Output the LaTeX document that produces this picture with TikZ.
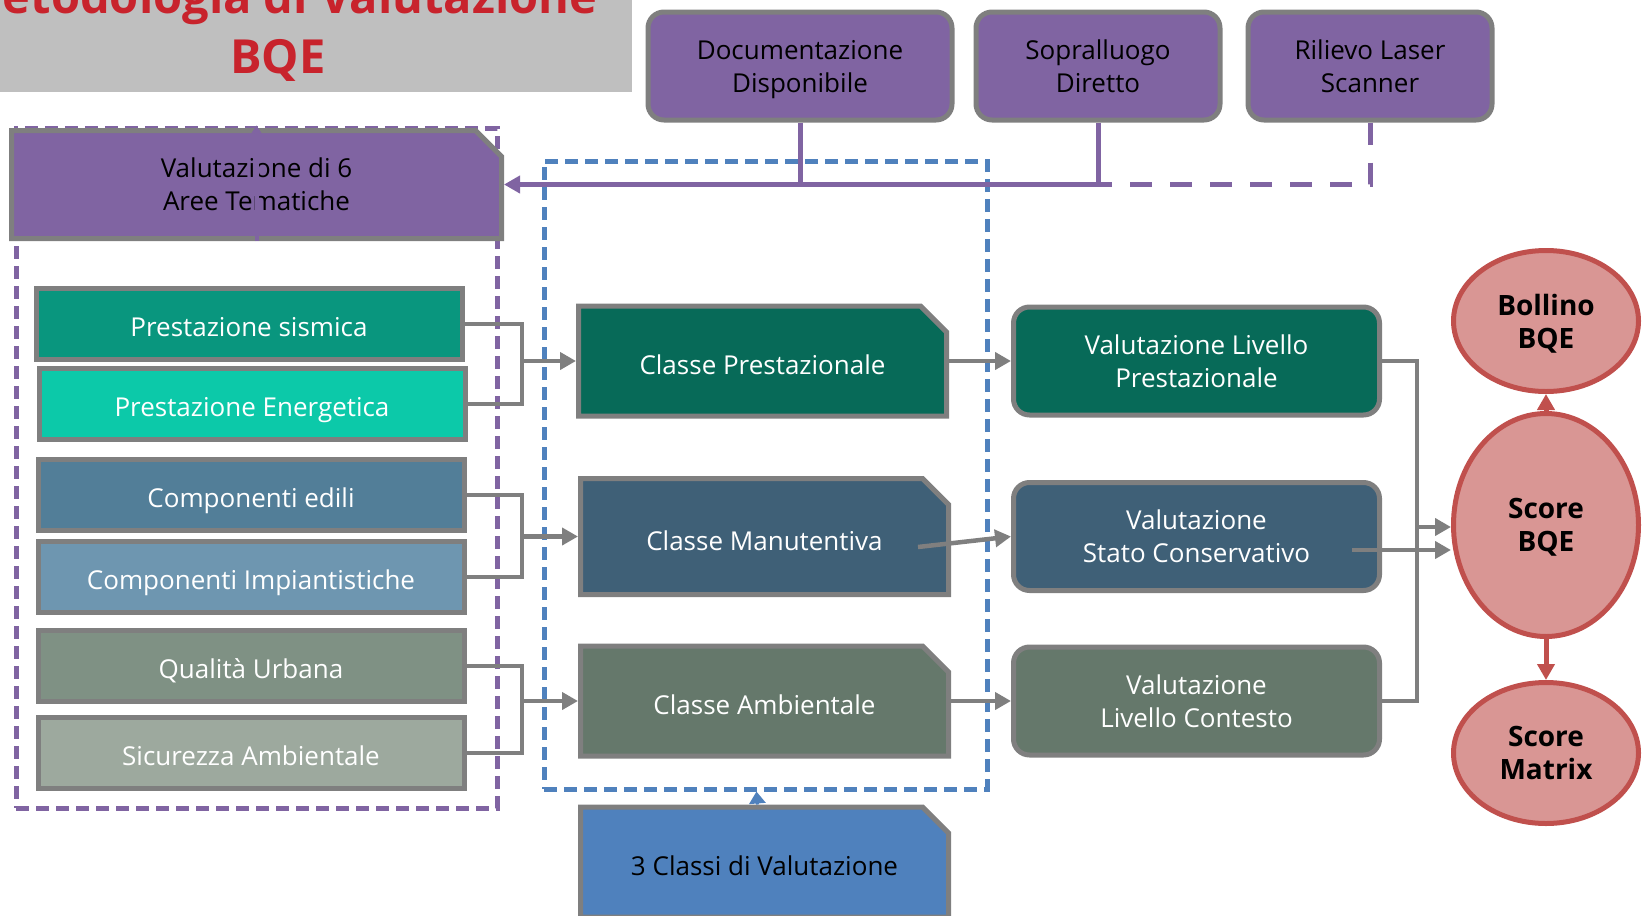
\documentclass[tikz,border=0pt]{standalone}
\usepackage{fontspec}
\setmainfont{Open Sans}
\usetikzlibrary{arrows.meta,shapes.misc,shapes.geometric}

\definecolor{bqeGray}{HTML}{7F7F7F}
\definecolor{titleGray}{HTML}{BFBFBF}
\definecolor{titleRed}{HTML}{C8232C}
\definecolor{bqePurple}{HTML}{8064A2}
\definecolor{bqeBlue}{HTML}{4F81BD}
\definecolor{sismicaCol}{HTML}{09967E}
\definecolor{energCol}{HTML}{0CC9A9}
\definecolor{edileCol}{HTML}{527E98}
\definecolor{impCol}{HTML}{6E96B0}
\definecolor{urbCol}{HTML}{7F9184}
\definecolor{sicCol}{HTML}{9DA99E}
\definecolor{prestCol}{HTML}{076A58}
\definecolor{manCol}{HTML}{3F6077}
\definecolor{ambCol}{HTML}{65786B}
\definecolor{scoreFill}{HTML}{D99694}
\definecolor{scoreLine}{HTML}{C0504D}

\begin{document}
\begin{tikzpicture}[x=0.5pt, y=-0.5pt,
    box/.style={draw=bqeGray, line width=2.5pt, inner sep=2pt, align=center,
        text depth=0pt, font=\fontsize{13}{16.5}\selectfont},
    topbox/.style={box, rounded corners=8pt, fill=bqePurple, text=black,
        minimum height=54pt},
    snipbox/.style={box, chamfered rectangle, chamfered rectangle corners=north east,
        chamfered rectangle xsep=6.5pt, chamfered rectangle ysep=6.5pt},
    leftbox/.style={box, rectangle, text=white, text height=12.5pt,
        minimum width=213pt, minimum height=35.5pt},
    classbox/.style={snipbox, text height=13.5pt, minimum width=184pt, minimum height=55pt},
    evalbox/.style={box, rounded corners=8pt, text=white, minimum width=183pt,
        minimum height=54pt},
    scorenode/.style={ellipse, draw=scoreLine, line width=2.5pt, fill=scoreFill,
        align=center, inner sep=0pt, minimum width=92.5pt, text depth=0pt,
        font=\fontsize{14}{16.5}\selectfont\bfseries},
    frame/.style={draw, line width=2.5pt, dash pattern=on 6.5pt off 3.5pt, inner sep=0pt},
    grayline/.style={draw=bqeGray, line width=2.25pt},
    grayarrow/.style={grayline, -{Triangle[length=8pt,width=8.5pt]}},
    purpleline/.style={draw=bqePurple, line width=2.5pt},
    redarrow/.style={draw=scoreLine, line width=2.5pt, -{Triangle[length=8pt,width=8.5pt]}}
]
    \path[use as bounding box] (0,0) rectangle (1650,916);
    \clip (0,0) rectangle (1650,916);

    % title
    \node[fill=titleGray, inner sep=0pt, minimum width=316pt, minimum height=46pt] (titlebg) at (316,46) {};
    \node[anchor=base, align=center, text=titleRed, inner sep=0pt,
        font=\fontsize{23.5}{30}\selectfont\bfseries] (title) at (278,73)
        {Metodologia di Valutazione\\BQE};

    % group frames
    \node[frame, draw=bqePurple, minimum width=240.5pt, minimum height=340pt] (grpAree) at (256.5,468) {};
    \node[frame, draw=bqeBlue, minimum width=221.5pt, minimum height=314pt] (grpClassi) at (765.5,475) {};

    % sources
    \node[topbox, minimum width=152pt] (docu) at (800,66) {Documentazione\\Disponibile};
    \node[topbox, minimum width=122pt] (sopr) at (1098,66) {Sopralluogo\\Diretto};
    \node[topbox, minimum width=122pt] (ril) at (1370,66) {Rilievo Laser\\Scanner};

    \node[snipbox, fill=bqePurple, text=black, minimum width=245pt, minimum height=54pt] (aree)
        at (256.5,184.5) {Valutazione di 6\\Aree Tematiche};

    % aree tematiche
    \node[leftbox, fill=sismicaCol] (sismica) at (249,324) {Prestazione sismica};
    \node[leftbox, fill=energCol] (energ) at (252,404) {Prestazione Energetica};
    \node[leftbox, fill=edileCol] (edili) at (251,495) {Componenti edili};
    \node[leftbox, fill=impCol] (impian) at (251,577) {Componenti Impiantistiche};
    \node[leftbox, fill=urbCol] (urbana) at (251,666) {Qualità Urbana};
    \node[leftbox, fill=sicCol] (sicur) at (251,753) {Sicurezza Ambientale};

    % classi
    \node[classbox, fill=prestCol, text=white] (cprest) at (762.5,361) {Classe Prestazionale};
    \node[classbox, fill=manCol, text=white, minimum height=58pt] (cmanut) at (764.5,536.5) {Classe Manutentiva};
    \node[classbox, fill=ambCol, text=white] (cambie) at (764.5,701) {Classe Ambientale};
    \node[classbox, fill=bqeBlue, text=black] (cvalut) at (764.5,862) {3 Classi di Valutazione};

    % valutazioni
    \node[evalbox, fill=prestCol] (vprest) at (1196.5,361) {Valutazione Livello\\Prestazionale};
    \node[evalbox, fill=manCol] (vstato) at (1196.5,536.5) {Valutazione\\Stato Conservativo};
    \node[evalbox, fill=ambCol] (vcont) at (1196.5,701) {Valutazione\\Livello Contesto};

    % score
    \node[scorenode, minimum height=70.5pt] (bollino) at (1546,321) {Bollino\\BQE};
    \node[scorenode, minimum height=111.5pt] (score) at (1546,525) {Score\\BQE};
    \node[scorenode, minimum height=70.5pt] (matrix) at (1546,753) {Score\\Matrix};

    % connectors
    \draw[purpleline, -{Triangle[length=8pt,width=8.5pt]}] (docu.south) |- (aree.east);
    \draw[purpleline] (sopr.south) |- (docu.south |- aree.east);
    \draw[purpleline, dash pattern=on 11pt off 9pt] (ril.south) |- (sopr.south |- aree.east);
    \draw[purpleline, line width=2pt, -{Triangle[length=4pt,width=5pt]}] (aree.south) -- (grpAree.north);

    \coordinate (brA) at (522,361);
    \coordinate (brB) at (522,536.5);
    \coordinate (brC) at (522,701);
    \draw[grayline] (sismica.east) -| (brA) |- (energ.east);
    \draw[grayline] (edili.east) -| (brB) |- (impian.east);
    \draw[grayline] (urbana.east) -| (brC) |- (sicur.east);
    \draw[grayarrow] (brA) -- (cprest.west);
    \draw[grayarrow] (brB) -- (cmanut.west);
    \draw[grayarrow] (brC) -- (cambie.west);

    \coordinate (manOut) at (918,547);
    \draw[grayarrow] (cprest.east) -- (vprest.west);
    \draw[grayarrow] (manOut) -- (vstato.west);
    \draw[grayarrow] (cambie.east) -- (vcont.west);
    \draw[draw=bqeBlue, line width=1.5pt, -{Triangle[length=6pt,width=8pt]}]
        ([xshift=-3.5pt]cvalut.north) -- ([xshift=-4pt]cvalut.north |- grpClassi.south);

    \coordinate (colX) at (1417,527);
    \coordinate (statoOut) at (1352,550);
    \draw[grayline] (vprest.east) -| (colX) |- (vcont.east);
    \draw[grayarrow] (colX) -- (score.west |- colX);
    \draw[grayarrow] (statoOut) -- (score.west |- statoOut);

    \draw[redarrow] (score.north) -- (bollino.south);
    \draw[redarrow] (score.south) -- (matrix.north);
\end{tikzpicture}
\end{document}
